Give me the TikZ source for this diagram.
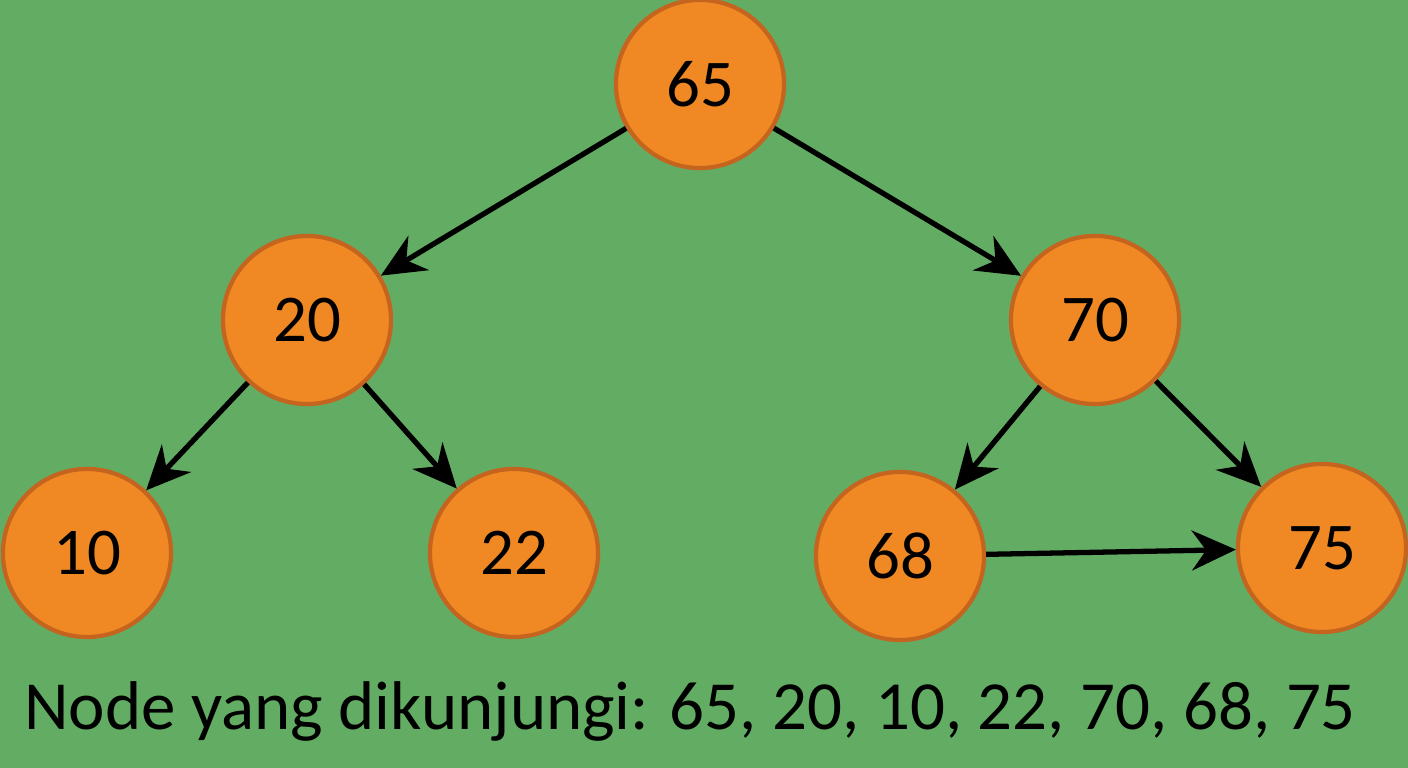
\documentclass[tikz,border=0pt]{standalone}
\usepackage{fontspec}
\setmainfont{Carlito}
\usetikzlibrary{arrows.meta}
\definecolor{bggreen}{RGB}{99,172,99}
\definecolor{nodeorange}{RGB}{240,137,36}
\definecolor{nodeedge}{RGB}{196,100,30}
\tikzset{
  tn/.style={circle, fill=nodeorange, draw=nodeedge, line width=1.2pt, minimum size=1.68cm, inner sep=0pt, font=\fontsize{19}{22}\selectfont},
  ar/.style={-{Stealth[length=0.44cm,width=0.4cm]}, line width=1.5pt, black}
}
\begin{document}
\begin{tikzpicture}[x=0.01cm,y=-0.01cm]
\fill[bggreen] (0,0) rectangle (1408,768);
\useasboundingbox (0,0) rectangle (1408,768);

\node (N65) at (700,84) [tn]{65};
\node (N20) at (307,320) [tn]{20};
\node (N70) at (1095,320) [tn]{70};
\node (N10) at (87,553) [tn]{10};
\node (N22) at (514,553) [tn]{22};
\node (N68) at (900,556) [tn]{68};
\node (N75) at (1322,548) [tn]{75};

\draw [ar] (N65) -- (N20);
\draw [ar] (N65) -- (N70);
\draw [ar] (N20) -- (N10);
\draw [ar] (N20) -- (N22);
\draw [ar] (N70) -- (N68);
\draw [ar] (N70) -- (N75);
\draw [ar] (N68) -- (N75);

\node (visited) at (690,712) [font=\fontsize{19.6}{24}\selectfont]{Node yang dikunjungi: 65, 20, 10, 22, 70, 68, 75};
\end{tikzpicture}
\end{document}
